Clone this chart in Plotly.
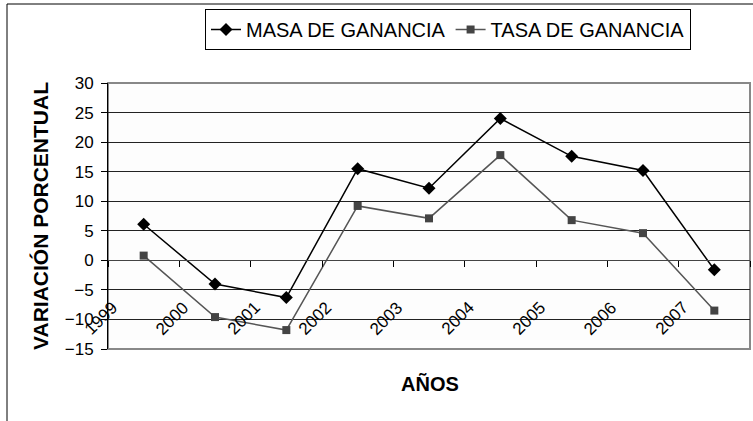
import plotly.graph_objects as go

years = ["1999", "2000", "2001", "2002", "2003", "2004", "2005", "2006", "2007"]
masa = [6.1, -4.0, -6.3, 15.5, 12.2, 24.0, 17.6, 15.2, -1.6]
tasa = [0.8, -9.6, -11.8, 9.2, 7.1, 17.8, 6.8, 4.6, -8.5]
y_ticks = [-15, -10, -5, 0, 5, 10, 15, 20, 25, 30]

W, H = 753, 421
L, R, T, B = 108, 750, 83, 349  # plot area in pixels
pw, ph = R - L, B - T

def px_x(p):
    return (p - L) / pw

def px_y(p):
    return (B - p) / ph

FONT = "Liberation Sans, Arial, sans-serif"
ymin, ymax = -15, 30
n = len(years)

fig = go.Figure()
fig.add_trace(go.Scatter(
    x=years, y=masa, name="MASA DE GANANCIA", mode="lines+markers",
    line=dict(color="#000000", width=1.5),
    marker=dict(symbol="diamond", size=10, color="#000000"),
))
fig.add_trace(go.Scatter(
    x=years, y=tasa, name="TASA DE GANANCIA", mode="lines+markers",
    line=dict(color="#555555", width=1.5),
    marker=dict(symbol="square", size=8, color="#444444"),
))
# helper trace to host the crossing axis at y=0
fig.add_trace(go.Scatter(
    x=[-0.5, n - 0.5], y=[None, None], xaxis="x2", yaxis="y",
    showlegend=False, hoverinfo="skip", mode="lines",
))

zero_pos = (0 - ymin) / (ymax - ymin)

# rotated category labels drawn inside the plot area (Excel-like offset)
label_offset = -0.6
label_y = -9.8
annotations = []
for i, yr in enumerate(years):
    annotations.append(dict(
        x=(i + 0.5 + label_offset) / n, y=(label_y - ymin) / (ymax - ymin),
        xref="paper", yref="paper", text=yr, showarrow=False,
        textangle=-45, xanchor="center", yanchor="middle",
        font=dict(family=FONT, size=17, color="#000000"),
    ))
annotations.append(dict(
    x=px_x(430), y=px_y(384), xref="paper", yref="paper", text="<b>AÑOS</b>",
    showarrow=False, xanchor="center", yanchor="middle",
    font=dict(family=FONT, size=20, color="#000000"),
))

fig.update_layout(
    width=W, height=H, autosize=False,
    margin=dict(l=L, r=W - R, t=T, b=H - B, pad=0),
    paper_bgcolor="#ffffff", plot_bgcolor="#fdfdfd",
    font=dict(family=FONT, size=17, color="#000000"),
    showlegend=True,
    legend=dict(
        orientation="h", x=px_x(691), y=px_y(9), xanchor="right", yanchor="top",
        bordercolor="#000000", borderwidth=1, bgcolor="#ffffff",
        font=dict(family=FONT, size=20, color="#000000"),
        itemwidth=30, tracegroupgap=0,
    ),
    xaxis=dict(
        type="category", range=[-0.5, n - 0.5], showticklabels=False, ticks="",
        showgrid=False, zeroline=False, showline=False,
    ),
    xaxis2=dict(
        overlaying="x", anchor="free", position=zero_pos, type="linear",
        range=[-0.5, n - 0.5], tickvals=[i - 0.5 for i in range(n + 1)],
        ticks="outside", ticklen=6, tickcolor="#000000", tickwidth=1,
        showticklabels=False, showgrid=False, zeroline=False,
        showline=True, linecolor="#444444", linewidth=1,
    ),
    yaxis=dict(
        range=[ymin, ymax], tickvals=y_ticks, ticks="outside", ticklen=6,
        tickcolor="#000000", showline=True, linecolor="#000000", linewidth=1,
        showgrid=True, gridcolor="#222222", gridwidth=1, zeroline=False,
        ticklabelstandoff=4,
        tickfont=dict(family=FONT, size=17, color="#000000"),
        title=dict(text="<b>VARIACIÓN PORCENTUAL</b>", standoff=10,
                   font=dict(family=FONT, size=21, color="#000000")),
    ),
    annotations=annotations,
    shapes=[
        dict(type="rect", xref="paper", yref="paper", x0=0, x1=1, y0=0, y1=1,
             line=dict(color="#888888", width=2), layer="below"),
        dict(type="rect", xref="paper", yref="paper",
             x0=px_x(7), x1=px_x(770), y0=px_y(440), y1=px_y(4),
             line=dict(color="#000000", width=1), layer="below"),
    ],
)

fig.write_html(
    "out.html",
    config={"displayModeBar": False},
    post_script="document.body.style.margin='0';document.body.style.overflow='hidden';",
)
